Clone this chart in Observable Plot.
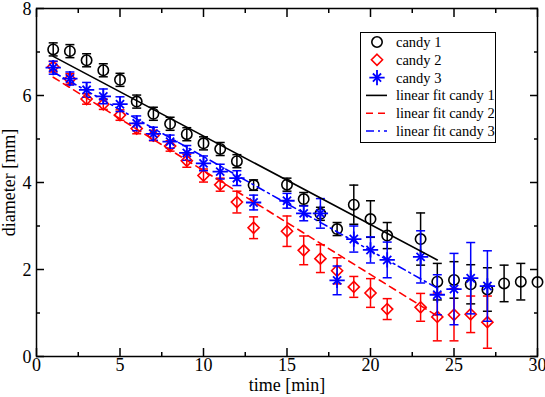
<!DOCTYPE html>
<html><head><meta charset="utf-8">
<script src="https://cdn.jsdelivr.net/npm/d3@7"></script>
<script src="https://cdn.jsdelivr.net/npm/@observablehq/plot@0.6"></script>
<style>body{margin:0;background:#fff;}</style>
</head><body><div id="chart"></div>
<script>
// ---- data ----
const time1 = [1,2,3,4,5,6,7,8,9,10,11,12,13,15,16,17,18,19,20,21,23,24,25,26,27,28,29,30];
const diam1 = [7.06,7.02,6.81,6.58,6.36,5.86,5.58,5.35,5.11,4.90,4.77,4.49,3.94,3.95,3.62,3.28,2.93,3.49,3.16,2.78,2.70,1.72,1.76,1.66,1.54,1.68,1.72,1.71];
const err1  = [0.15,0.15,0.15,0.15,0.15,0.15,0.15,0.15,0.15,0.15,0.15,0.15,0.12,0.15,0.15,0.15,0.15,0.45,0.42,0.30,0.60,0.42,0.42,0.45,0.50,0.42,0.42,0];

const time2 = [1,2,3,4,5,6,7,8,9,10,11,12,13,15,16,17,18,19,20,21,23,24,25,26,27];
const diam2 = [6.66,6.38,5.92,5.80,5.55,5.24,5.08,4.84,4.50,4.16,3.95,3.55,2.96,2.88,2.44,2.25,1.97,1.60,1.46,1.09,1.13,0.91,0.96,0.97,0.79];
const err2  = [0.12,0.12,0.12,0.12,0.12,0.12,0.12,0.12,0.15,0.15,0.15,0.25,0.25,0.35,0.33,0.32,0.30,0.24,0.33,0.24,0.32,0.55,0.60,0.42,0.60];

const time3 = [1,2,3,4,5,6,7,8,9,10,11,12,13,15,16,17,18,19,20,21,23,24,25,26,27];
const diam3 = [6.64,6.39,6.13,5.98,5.80,5.36,5.12,4.94,4.68,4.44,4.25,4.10,3.54,3.58,3.29,3.29,1.75,2.70,2.45,2.22,2.29,1.42,1.55,1.80,1.62];
const err3  = [0.15,0.15,0.17,0.17,0.17,0.17,0.15,0.15,0.17,0.17,0.17,0.17,0.17,0.17,0.17,0.34,0.33,0.30,0.30,0.41,0.60,0.46,0.82,0.82,0.81];

// linear fit end points (t, diameter)
const fitTime = [1, 24];
const fit1 = [6.90, 2.22];
const fit2 = [6.42, 0.93];
const fit3 = [6.54, 1.57];

const seriesNames = ["candy 1","candy 2","candy 3"];
const fitNames = ["linear fit candy 1","linear fit candy 2","linear fit candy 3"];
const colors = ["#000000","#ff0000","#0000ff"];

const xMajor = [0,5,10,15,20,25,30];
const xMinor = [2.5,7.5,12.5,17.5,22.5,27.5];
const yMajor = [0,2,4,6,8];
const yMinor = [1,3,5,7];

// ---- build tables ----
const mk = (t, d, e) => t.map((x, i) => ({t: x, v: d[i], e: e[i]}));
const s1 = mk(time1, diam1, err1), s2 = mk(time2, diam2, err2), s3 = mk(time3, diam3, err3);
const fitRows = (f) => fitTime.map((t, i) => ({t, v: f[i]}));

const cap = {draw(ctx, size){ const r = Math.sqrt(size/Math.PI); ctx.moveTo(-r,0); ctx.lineTo(r,0);} };

function errMarks(data, color){
  const d = data.filter(r => r.e > 0);
  return [
    Plot.ruleX(d, {x:"t", y1: r => r.v - r.e, y2: r => r.v + r.e, stroke: color, strokeWidth: 1.5}),
    Plot.dot(d, {x:"t", y: r => r.v - r.e, symbol: cap, r: 4.5, stroke: color, strokeWidth: 1.5}),
    Plot.dot(d, {x:"t", y: r => r.v + r.e, symbol: cap, r: 4.5, stroke: color, strokeWidth: 1.5})
  ];
}

const font = "'Liberation Serif', 'Times New Roman', serif";

const plot = Plot.plot({
  width: 545, height: 397,
  marginLeft: 36, marginRight: 8, marginTop: 8, marginBottom: 41,
  style: {fontFamily: font, fontSize: "18px", background: "#fff", color: "#000"},
  x: {domain: [0, 30]},
  y: {domain: [0, 8]},
  marks: [
    // ticks inward on all four sides
    Plot.axisX({anchor:"bottom", ticks: xMajor, tickSize: -8, tickFormat: () => "", label: null, strokeWidth: 1.5}),
    Plot.axisX({anchor:"bottom", ticks: xMinor, tickSize: -4, tickFormat: () => "", label: null, strokeWidth: 1.5}),
    Plot.axisX({anchor:"top", ticks: xMajor, tickSize: -8, tickFormat: () => "", label: null, strokeWidth: 1.5}),
    Plot.axisX({anchor:"top", ticks: xMinor, tickSize: -4, tickFormat: () => "", label: null, strokeWidth: 1.5}),
    Plot.axisY({anchor:"left", ticks: yMajor, tickSize: -8, tickFormat: () => "", label: null, strokeWidth: 1.5}),
    Plot.axisY({anchor:"left", ticks: yMinor, tickSize: -4, tickFormat: () => "", label: null, strokeWidth: 1.5}),
    Plot.axisY({anchor:"right", ticks: yMajor, tickSize: -8, tickFormat: () => "", label: null, strokeWidth: 1.5}),
    Plot.axisY({anchor:"right", ticks: yMinor, tickSize: -4, tickFormat: () => "", label: null, strokeWidth: 1.5}),
    // labels
    Plot.axisX({anchor:"bottom", ticks: xMajor, tickSize: 0, tickPadding: 2, label: "time [min]", labelAnchor: "center", labelArrow: "none", labelOffset: 34, fontSize: 18}),
    Plot.axisY({anchor:"left", ticks: yMajor, tickSize: 0, tickPadding: 5, dy: 1, label: "diameter [mm]", labelAnchor: "center", labelArrow: "none", labelOffset: 34, fontSize: 18}),
    Plot.frame({stroke: "#000", strokeWidth: 1.5}),
    // candy 1
    ...errMarks(s1, colors[0]),
    Plot.dot(s1, {x:"t", y:"v", symbol:"circle", r: 5.2, stroke: colors[0], strokeWidth: 1.6, fill: "none"}),
    // candy 2
    ...errMarks(s2, colors[1]),
    Plot.dot(s2, {x:"t", y:"v", symbol:"diamond2", r: 5, stroke: colors[1], strokeWidth: 1.6, fill: "none"}),
    // candy 3
    ...errMarks(s3, colors[2]),
    Plot.dot(s3, {x:"t", y:"v", symbol:"plus", r: 5, stroke: colors[2], strokeWidth: 1.8}),
    Plot.dot(s3, {x:"t", y:"v", symbol:"times", r: 3.8, stroke: colors[2], strokeWidth: 1.8}),
    // fits
    Plot.line(fitRows(fit1), {x:"t", y:"v", stroke: colors[0], strokeWidth: 1.6}),
    Plot.line(fitRows(fit2), {x:"t", y:"v", stroke: colors[1], strokeWidth: 1.6, strokeDasharray: "7,5"}),
    Plot.line(fitRows(fit3), {x:"t", y:"v", stroke: colors[2], strokeWidth: 1.6, strokeDasharray: "8,4,2,4"})
  ]
});
document.getElementById("chart").appendChild(plot);

// ---- legend inside the frame ----
const svg = d3.select(plot);
const lg = svg.append("g").attr("font-family", font).attr("font-size", 14.5).attr("text-anchor", "start");
lg.append("rect").attr("x", 360.5).attr("y", 32.5).attr("width", 135).attr("height", 110)
  .attr("fill", "#fff").attr("stroke", "#000").attr("stroke-width", 1);
const rowY = i => 42 + i * 17.8;
const sx = 377, tx = 396;
lg.append("circle").attr("cx", sx).attr("cy", rowY(0)).attr("r", 5.2).attr("fill","none").attr("stroke", colors[0]).attr("stroke-width", 1.6);
lg.append("path").attr("transform", `translate(${sx},${rowY(1)})`).attr("d", d3.symbol(d3.symbolDiamond2, 25*Math.PI)()).attr("fill","none").attr("stroke", colors[1]).attr("stroke-width", 1.6);
lg.append("path").attr("transform", `translate(${sx},${rowY(2)})`).attr("d", d3.symbol(d3.symbolPlus, 25*Math.PI)()).attr("fill","none").attr("stroke", colors[2]).attr("stroke-width", 1.8);
lg.append("path").attr("transform", `translate(${sx},${rowY(2)})`).attr("d", d3.symbol(d3.symbolTimes, 3.8*3.8*Math.PI)()).attr("fill","none").attr("stroke", colors[2]).attr("stroke-width", 1.8);
const dashes = [null, "7,5", "8,4,2,4"];
fitNames.forEach((n, i) => {
  lg.append("line").attr("x1", 366).attr("x2", 387).attr("y1", rowY(3+i)).attr("y2", rowY(3+i))
    .attr("stroke", colors[i]).attr("stroke-width", 1.6).attr("stroke-dasharray", dashes[i]);
});
[...seriesNames, ...fitNames].forEach((n, i) => {
  lg.append("text").attr("x", tx).attr("y", rowY(i)).attr("dy", "0.35em").attr("fill", "#000").attr("text-anchor", "start").text(n);
});
</script>
</body></html>
